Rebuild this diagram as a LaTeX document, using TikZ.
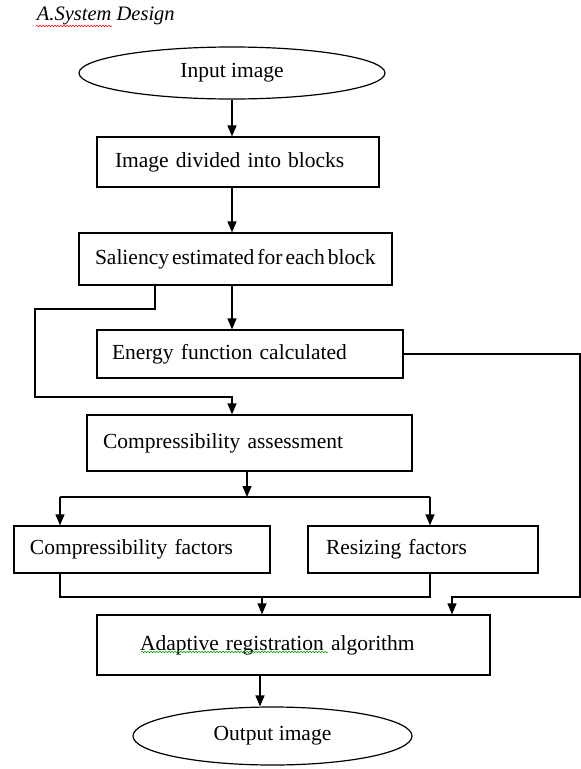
\documentclass[tikz,border=0pt]{standalone}
\usepackage{fontspec}
\setmainfont{Liberation Serif}
\usetikzlibrary{arrows.meta,shapes.geometric,decorations.pathmorphing}

\begin{document}
\begin{tikzpicture}[x=1pt,y=-1pt,line width=1.2pt,>={Triangle[length=11pt,width=9pt]},
  blk/.style={draw,rectangle,align=left,font=\fontsize{21.5}{24}\selectfont},
  oval/.style={draw,ellipse,inner sep=0pt,font=\fontsize{21.5}{24}\selectfont}]
\useasboundingbox (0,0) rectangle (581,769);

\node[anchor=west,font=\itshape\fontsize{20.5}{22}\selectfont] (title) at (33,16) {A.System Design};
\draw[red,line width=0.5pt,decorate,decoration={snake,amplitude=0.8pt,segment length=3pt}] (36,26) -- (112,26);

\node[oval,minimum width=306pt,minimum height=52pt] (in) at (232,73) {Input image};
\node[blk,text width=246pt,inner xsep=18pt,minimum height=50pt] (b1) at (238,162) {Image divided into blocks};
\node[blk,text width=281pt,inner xsep=16pt,minimum height=52pt] (b2) at (235.5,259) {\spaceskip=0.14em\relax\mbox{Saliency estimated for each block}};
\node[blk,text width=276pt,inner xsep=15pt,minimum height=48pt] (b3) at (250,354) {Energy function calculated};
\node[blk,text width=293pt,inner xsep=16pt,minimum height=56pt] (b4) at (249.5,443) {Compressibility assessment};
\node[blk,text width=224pt,inner xsep=16pt,minimum height=47pt] (b5) at (142,549.5) {Compressibility factors};
\node[blk,text width=194pt,inner xsep=18pt,minimum height=47pt] (b6) at (423,549.5) {Resizing factors};
\node[blk,text width=307pt,inner xsep=43pt,minimum height=60pt] (b7) at (293.5,645) {Adaptive registration algorithm};
\draw[green!60!black,line width=0.5pt,decorate,decoration={snake,amplitude=0.8pt,segment length=3pt}] (141,652) -- (328,652);
\node[oval,minimum width=279pt,minimum height=58pt] (out) at (272.5,736) {Output image};

% bends
\coordinate (k1) at (155,309);
\coordinate (k2) at (35,397);
\coordinate (r1) at (580,597);
\coordinate (r2) at (452,597);
\coordinate (s) at (247,497);
\coordinate (sl) at (60,497);
\coordinate (sr) at (430,497);
\coordinate (ml) at (60,597);
\coordinate (mr) at (430,597);
\coordinate (m) at (262,597);
\coordinate (bo) at (260,690);

\path[draw,->] (in.south) -- (in.south |- b1.north);
\path[draw,->] (in.south |- b1.south) -- (in.south |- b2.north);
\path[draw,->] (in.south |- b2.south) -- (in.south |- b3.north);
\path[draw,->] (b2.south -| k1) -- (k1) -| (k2) -| (in.south |- b4.north);
\path[draw,->] (b3.east) -| (r1) -- (r2) -- (r2 |- b7.north);
\path[draw,->] (b4.south -| s) -- (s);
\path[draw] (sl) -- (sr);
\path[draw,->] (sl) -- (sl |- b5.north);
\path[draw,->] (sr) -- (sr |- b6.north);
\path[draw] (ml |- b5.south) -- (ml) -- (mr) -- (mr |- b6.south);
\path[draw,->] (m) -- (m |- b7.north);
\path[draw,->] (bo |- b7.south) -- (bo |- out.north);
\end{tikzpicture}
\end{document}
